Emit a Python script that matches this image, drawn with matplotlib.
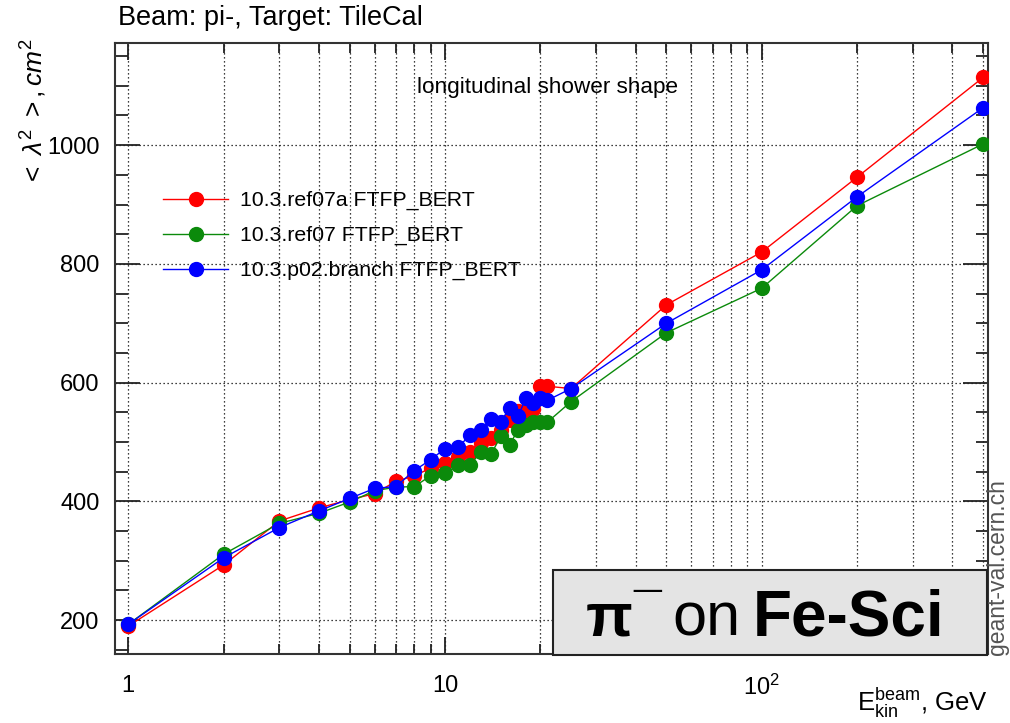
import numpy as np
import matplotlib
matplotlib.use("Agg")
import matplotlib.pyplot as plt
from matplotlib.ticker import FixedLocator, MultipleLocator, LogLocator, NullFormatter, FixedFormatter
from matplotlib.patches import Rectangle

plt.rcParams['font.family'] = ['Liberation Sans', 'DejaVu Sans']
plt.rcParams['mathtext.fontset'] = 'custom'
plt.rcParams['mathtext.rm'] = 'Liberation Sans'
plt.rcParams['mathtext.it'] = 'Liberation Sans:italic'
plt.rcParams['mathtext.bf'] = 'Liberation Sans:bold'

# ─────── Data: <lambda^2> vs beam energy ───────
energy = [1, 2, 3, 4, 5, 6, 7, 8, 9, 10, 11, 12, 13, 14, 15, 16, 17, 18, 19, 20, 21,
          25, 50, 100, 200, 500]

ref07a = [190, 293, 367, 389, 403, 413, 434, 443, 456, 464, 475, 484, 499, 506, 520,
          537, 553, 554, 555, 594, 594, 590, 731, 820, 946, 1114]
ref07 = [193, 311, 363, 380, 399, 418, 424, 425, 443, 447, 461, 461, 484, 480, 510,
         495, 521, 529, 533, 534, 533, 568, 684, 759, 898, 1002]
p02_branch = [193, 305, 356, 384, 405, 422, 425, 452, 470, 489, 491, 512, 521, 538, 534,
              558, 543, 574, 565, 574, 570, 590, 700, 790, 913, 1063]

series = [
    ("10.3.ref07a FTFP_BERT", ref07a, '#ff0000'),
    ("10.3.ref07 FTFP_BERT", ref07, '#0b8a0b'),
    ("10.3.p02.branch FTFP_BERT", p02_branch, '#0000ff'),
]

x_ticks = [1, 10, 100]
x_ticklabels = ['1', '10', r'$\mathregular{10^{2}}$']

# ─────── Figure ───────
W, H = 1010, 723
fig = plt.figure(figsize=(W / 100, H / 100), dpi=100)
ax = fig.add_axes([115 / W, 1 - 654 / H, (988 - 115) / W, (654 - 43) / H])

for label, vals, col in series:
    ax.plot(energy, vals, color=col, lw=1.0, marker='o', markersize=10,
            markeredgecolor=col, label=label, zorder=3)

ax.set_xscale('log')
ax.set_xlim(0.908, 518)
ax.set_ylim(143, 1172)

ax.xaxis.set_major_locator(FixedLocator(x_ticks))
ax.xaxis.set_major_formatter(FixedFormatter(x_ticklabels))
ax.xaxis.set_minor_locator(LogLocator(base=10, subs=np.arange(2, 10)))
ax.xaxis.set_minor_formatter(NullFormatter())
ax.yaxis.set_major_locator(MultipleLocator(200))
ax.yaxis.set_minor_locator(MultipleLocator(50))

ax.grid(which='major', axis='both', ls=(0, (1, 2.2)), color='black', lw=0.9)
ax.grid(which='minor', axis='x', ls=(0, (1, 2.2)), color='black', lw=0.9)

ax.tick_params(which='both', direction='in', top=True, right=True, width=1.3,
               color='#222222', labelsize=17)
ax.tick_params(axis='x', which='major', length=12, pad=15)
ax.tick_params(axis='x', which='minor', length=7)
ax.tick_params(axis='y', which='major', length=18, pad=11)
ax.tick_params(axis='y', which='minor', length=9)
for sp in ax.spines.values():
    sp.set_linewidth(1.5)
    sp.set_color('#333333')

leg = ax.legend(loc='upper left', bbox_to_anchor=(163 / W, 1 - 191 / H),
                bbox_transform=fig.transFigure, frameon=False, fontsize=15.3,
                handlelength=3.06, handletextpad=0.56, labelspacing=0.74,
                borderpad=0, borderaxespad=0)

# ─────── Text ───────
fig.text(118 / W, 1 - 18 / H, "Beam: pi-, Target: TileCal", fontsize=19.5,
         ha='left', va='center')
fig.text(548 / W, 1 - 87 / H, "longitudinal shower shape", fontsize=16.2,
         ha='center', va='center')
fig.text(34 / W, 1 - 38 / H, r'$<\ \lambda^{2}\ >, cm^{2}$', fontsize=19,
         rotation=90, ha='center', va='top')
fig.text(988 / W, 1 - 720 / H, r'$\mathrm{E_{kin}^{beam}}$, GeV', fontsize=18.5,
         ha='right', va='bottom')
fig.text(998 / W, 1 - 655 / H, "geant-val.cern.ch", fontsize=16.5, color='#555555',
         rotation=90, ha='center', va='bottom')

# label box in the lower right corner
ax.add_patch(Rectangle((553 / W, 1 - 655 / H), (987 - 553) / W, (655 - 570) / H,
                       transform=fig.transFigure, facecolor='#e4e4e4',
                       edgecolor='#222222', lw=1.5, zorder=5, clip_on=False))
base_y = 1 - 636 / H
fig.text(586 / W, base_y, "π", fontsize=44, fontweight='bold',
         ha='left', va='baseline', zorder=6)
fig.text(633 / W, 1 - 628 / H, "¯", fontsize=36, fontweight='bold',
         ha='left', va='baseline', zorder=6)
fig.text(672 / W, base_y, "on", fontsize=44,
         ha='left', va='baseline', zorder=6)
fig.text(753 / W, base_y, "Fe-Sci", fontsize=46, fontweight='bold',
         ha='left', va='baseline', zorder=6)

fig.savefig("out.png", dpi=100)
